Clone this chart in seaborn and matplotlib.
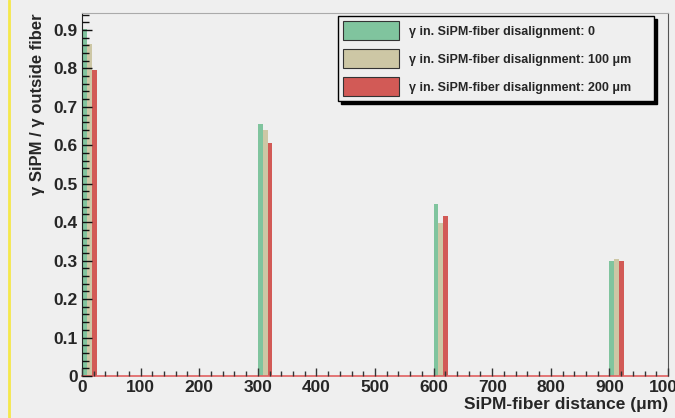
import numpy as np
import pandas as pd
import matplotlib
matplotlib.use('Agg')
import matplotlib.pyplot as plt
import matplotlib.patches as mpatches
from matplotlib.lines import Line2D
from matplotlib.ticker import MultipleLocator
import seaborn as sns

distances = [0, 300, 600, 900]
align_0 = [0.903, 0.656, 0.448, 0.300]
align_100 = [0.863, 0.640, 0.398, 0.304]
align_200 = [0.795, 0.607, 0.417, 0.298]

series_names = ['\u03b3 in. SiPM-fiber disalignment: 0',
                '\u03b3 in. SiPM-fiber disalignment: 100 \u03bcm',
                '\u03b3 in. SiPM-fiber disalignment: 200 \u03bcm']
colors = ['#80c49e', '#cdc7a5', '#d25a56']

df = pd.concat([
    pd.DataFrame({'distance': distances, 'ratio': vals, 'series': name})
    for name, vals in zip(series_names, [align_0, align_100, align_200])
], ignore_index=True)

sns.set_style('ticks')
plt.rcParams['font.family'] = ['Liberation Sans', 'DejaVu Sans']
plt.rcParams['font.weight'] = 'bold'

bg = '#efefef'
fig = plt.figure(figsize=(6.75, 4.18), dpi=100, facecolor=bg)
ax = fig.add_axes([82 / 675, 42 / 418, 586 / 675, 363 / 418])
ax.set_facecolor(bg)

sns.histplot(df, x='distance', weights='ratio', hue='series', hue_order=series_names,
             palette=colors, multiple='dodge', binwidth=25, binrange=(0, 1000), shrink=1,
             alpha=1, linewidth=0, legend=False, ax=ax)
# ROOT style: ticks drawn on top of the bars
ax.set_axisbelow(False)

ax.set_xlim(0, 1000)
ax.set_ylim(0, 0.944)

ax.xaxis.set_major_locator(MultipleLocator(100))
ax.xaxis.set_minor_locator(MultipleLocator(20))
ax.yaxis.set_major_locator(MultipleLocator(0.1))
ax.yaxis.set_minor_locator(MultipleLocator(0.02))
ax.yaxis.set_major_formatter(plt.FuncFormatter(lambda v, p: '0' if abs(v) < 1e-9 else f'{v:.1f}'))

ax.tick_params(axis='both', which='both', direction='in', labelsize=12.5, pad=3,
               left=True, bottom=True, top=False, right=False)
ax.tick_params(axis='x', which='major', length=6, width=1, color='#333333')
ax.tick_params(axis='x', which='minor', length=3.5, width=1, color='#333333')
ax.tick_params(axis='y', which='major', length=7, width=1, color='#111111')
ax.tick_params(axis='y', which='minor', length=5, width=1, color='#111111')
for lab in ax.get_xticklabels() + ax.get_yticklabels():
    lab.set_fontweight('bold')

for side in ['left', 'top', 'right', 'bottom']:
    ax.spines[side].set_visible(True)
ax.spines['left'].set_color('#222222')
ax.spines['top'].set_color('#aaaaaa')
ax.spines['top'].set_linewidth(0.8)
ax.spines['right'].set_color('#555555')
ax.spines['bottom'].set_color('#e06060')
ax.spines['bottom'].set_linewidth(1.2)

ax.set_xlabel('SiPM-fiber distance (\u03bcm)', loc='right', fontsize=12.5, fontweight='bold', labelpad=1)
ax.set_ylabel('\u03b3 SiPM / \u03b3 outside fiber', loc='top', fontsize=12, fontweight='bold', labelpad=6)

handles = [mpatches.Patch(facecolor=c, edgecolor='#333333', linewidth=0.8) for c in colors]
leg = ax.legend(handles, series_names, loc='upper left',
                bbox_to_anchor=(338 / 675, 1 - 99 / 418, 316 / 675, 83 / 418),
                bbox_transform=fig.transFigure, mode='expand', borderaxespad=0, fancybox=False,
                shadow={'color': 'black', 'alpha': 1}, frameon=True, edgecolor='black',
                facecolor=bg, framealpha=1, prop={'size': 9, 'weight': 'bold'},
                handlelength=4.5, handleheight=2.0, labelspacing=0.7, handletextpad=0.8,
                borderpad=0.4)
leg.get_frame().set_linewidth(1.0)

fig.add_artist(Line2D([9 / 675, 9 / 675], [0, 1], transform=fig.transFigure, color='#f5e84a', linewidth=2))

fig.savefig('out.png', dpi=100, facecolor=bg)
